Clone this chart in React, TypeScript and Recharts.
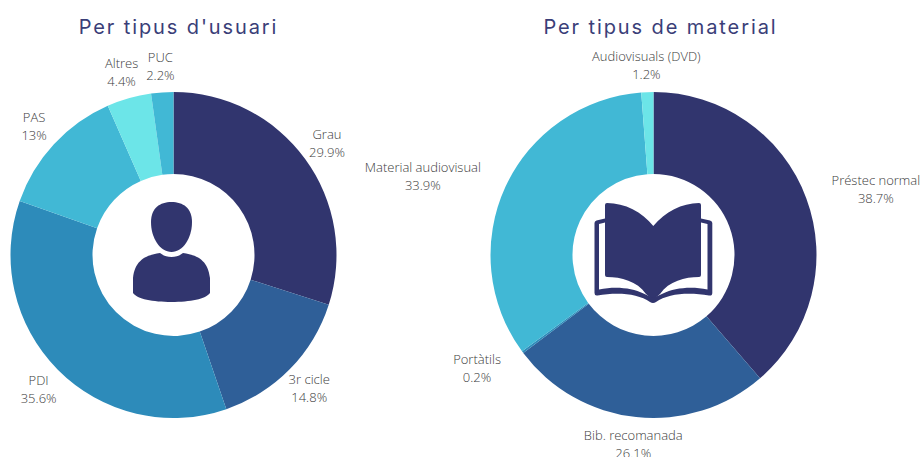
import React from "react";
import { PieChart, Pie, Cell } from "recharts";

const userNames = ["Grau", "3r cicle", "PDI", "PAS", "Altres", "PUC"];
const userValues = [29.9, 14.8, 35.6, 13, 4.4, 2.2];
const userColors = ["#31356E", "#2F5F98", "#2D8BBA", "#41B8D5", "#6CE5E8", "#41B8D5"];

const materialNames = ["Préstec normal", "Bib. recomanada", "Portàtils", "Material audiovisual", "Audiovisuals (DVD)"];
const materialValues = [38.7, 26.1, 0.2, 33.9, 1.2];
const materialColors = ["#31356E", "#2F5F98", "#2D8BBA", "#41B8D5", "#6CE5E8"];

const userData = userNames.map((name, i) => ({ name, value: userValues[i] }));
const materialData = materialNames.map((name, i) => ({ name, value: materialValues[i] }));

const LABEL_FONT = "300 13px 'Open Sans'";
const LABEL_COLOR = "#3c3c3c";
const RAD = Math.PI / 180;

function textWidth(s: string) {
  const ctx = document.createElement("canvas").getContext("2d");
  if (!ctx) return s.length * 5.8;
  ctx.font = LABEL_FONT;
  return ctx.measureText(s).width;
}

// Labels sit on a ring around the pie; with pushOut, labels on the flanks are moved clear of it by half their width.
const makeLabel = (pushOut: boolean) => (p: any) => {
  const r = p.outerRadius + 27;
  const cos = Math.cos(-p.midAngle * RAD);
  const sin = Math.sin(-p.midAngle * RAD);
  let x = p.cx + r * cos;
  const y = p.cy + r * sin;
  if (pushOut && Math.abs(cos) > 0.7) x += Math.sign(cos) * textWidth(p.name) / 2;
  return (
    <text
      x={x}
      y={y}
      textAnchor="middle"
      fill={LABEL_COLOR}
      style={{ fontFamily: "'Open Sans'", fontWeight: 300, fontSize: 13 }}
    >
      <tspan x={x} dy={-3.8}>{p.name}</tspan>
      <tspan x={x} dy={18}>{`${p.value}%`}</tspan>
    </text>
  );
};

const titleStyle: React.CSSProperties = {
  fontFamily: "Inter",
  fontSize: 20,
  fontWeight: 400,
  letterSpacing: 1.9,
};

export default function App() {
  return (
    <div style={{ position: "absolute", left: 0, top: 0, width: 921, height: 457, background: "#fff", overflow: "hidden" }}>
      <PieChart width={921} height={457} margin={{ top: 0, right: 0, bottom: 0, left: 0 }}>
        <Pie
          data={userData}
          dataKey="value"
          nameKey="name"
          cx={173.5}
          cy={255}
          innerRadius={81}
          outerRadius={163}
          startAngle={90}
          endAngle={-270}
          stroke="none"
          labelLine={false}
          label={makeLabel(false)}
          isAnimationActive={false}
        >
          {userNames.map((n, i) => <Cell key={n} fill={userColors[i]} />)}
        </Pie>
        <Pie
          data={materialData}
          dataKey="value"
          nameKey="name"
          cx={653.5}
          cy={255}
          innerRadius={81}
          outerRadius={163}
          startAngle={90}
          endAngle={-270}
          stroke="none"
          labelLine={false}
          label={makeLabel(true)}
          isAnimationActive={false}
        >
          {materialNames.map((n, i) => <Cell key={n} fill={materialColors[i]} />)}
        </Pie>
      </PieChart>
      <svg width={921} height={457} style={{ position: "absolute", left: 0, top: 0, pointerEvents: "none" }}>
        <text x={178.5} y={34} textAnchor="middle" fill="#3A3E78" style={titleStyle}>Per tipus d'usuari</text>
        <text x={660.5} y={34} textAnchor="middle" fill="#3A3E78" style={titleStyle}>Per tipus de material</text>
        {/* person icon */}
        <path
          fill="#31356E"
          d="M171.5 202 C183 202 192 208 192 222 C192 238 183 252 171.5 252 C160 252 151 238 151 222 C151 208 160 202 171.5 202 Z"
        />
        <path
          fill="#31356E"
          d="M160 253 C164 256 167 257 171.5 257 C176 257 179 256 183 253 C197 255 208 260 210 278 L210 293 C206 299 190 302 171.5 302 C153 302 137 299 133 293 L133 278 C135 260 146 255 160 253 Z"
        />
        {/* book icon */}
        <path
          fill="#31356E"
          d="M605 205 Q605 203 607 203 C625 203 642 212 653.3 226 C665 212 682 203 699 203 Q701 203 701 205 V275 Q701 277 699 277 C685 277 669 281 660 294 L653 300 L646 294 C637 281 621 277 607 277 Q605 277 605 275 Z"
        />
        <path
          fill="#31356E"
          d="M594.5 223 Q594.5 221 596.5 220.5 L605 218.5 V222.5 L599 224 V289.5 C616 286 632 288 643.5 293.5 L653 298 L663 293.5 C674 288 691 286 707.5 289.5 V224 L701 222.5 V218.5 L710 220.5 Q712.3 221 712.3 223 V293 Q712.3 296 709 295.5 C690 292 668 293 656 302 Q653 304 650 302 C638 293 616 292 597.5 295.5 Q594.5 296 594.5 293 Z"
        />
      </svg>
    </div>
  );
}
